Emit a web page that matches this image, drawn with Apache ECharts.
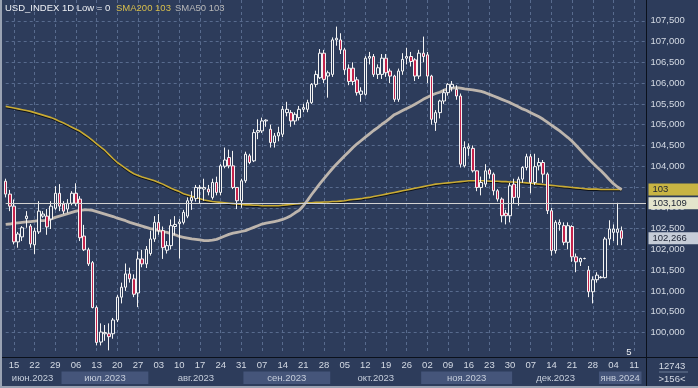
<!DOCTYPE html>
<html><head><meta charset="utf-8">
<script src="https://cdn.jsdelivr.net/npm/echarts@6.0.0/dist/echarts.min.js"></script>
<style>html,body{margin:0;padding:0;background:#2d3c5b;overflow:hidden}#c{width:698px;height:388px}</style>
</head><body><div id="c"></div>
<script>
// ---------- DATA ----------
const seriesName = 'USD_INDEX 1D Low = 0';
const firstDate = '2023-06-13';
const categoryCount = 156;
const hLevel = 103.109;
const opens = [103.64,103.33,103.04,102.18,102.30,102.74,102.56,102.11,102.42,102.80,
102.80,102.73,102.99,103.35,103.09,102.97,103.11,103.35,103.21,102.32,
101.99,101.68,100.60,99.77,99.97,99.97,99.97,100.30,100.85,101.09,
101.41,101.29,100.95,101.77,101.65,101.90,102.25,102.65,102.45,101.98,
102.09,102.55,102.62,102.65,102.80,103.17,103.22,103.47,103.45,103.45,
103.25,103.61,103.37,104.00,104.21,104.01,103.49,103.17,103.65,104.25,
104.13,104.82,104.85,105.09,104.89,104.57,104.73,104.77,105.29,105.29,
105.09,105.17,105.37,105.37,105.53,105.97,106.13,106.72,106.17,106.21,
107.04,107.04,106.80,106.36,106.36,106.08,105.73,105.73,106.60,106.64,
106.21,106.21,106.60,106.29,106.17,105.61,106.29,106.60,106.64,106.56,
106.17,106.72,106.68,106.17,105.05,105.29,105.57,105.77,105.90,105.85,
105.69,104.01,104.43,104.43,103.89,103.49,103.57,103.91,103.81,103.41,
103.21,102.87,102.81,103.57,103.25,103.69,103.97,104.23,103.61,104.01,
104.09,103.81,102.93,101.97,102.60,102.57,102.17,102.55,101.82,101.70,
101.78,101.50,100.98,101.27,101.32,101.32,102.25,102.41,102.41,102.45];
const highs = [103.70,103.43,103.20,102.42,102.56,102.92,102.61,102.52,103.16,102.92,
102.97,103.16,103.52,103.57,103.16,103.21,103.40,103.59,103.28,102.59,
102.04,101.72,100.65,100.22,100.18,100.22,100.35,100.90,101.20,101.66,
101.56,101.40,101.95,101.99,102.08,102.45,102.80,102.85,102.55,102.20,
102.72,102.80,102.73,102.95,103.25,103.40,103.55,103.55,103.70,103.55,
103.70,103.75,104.05,104.45,104.40,104.37,103.50,103.70,104.35,104.30,
104.89,105.13,105.17,105.13,105.00,104.80,104.95,105.45,105.55,105.35,
105.30,105.45,105.50,105.60,106.00,106.30,106.82,106.80,106.30,107.10,
107.36,107.20,106.85,106.45,106.50,106.15,105.90,106.65,106.75,106.70,
106.45,106.70,106.70,106.35,106.20,106.35,106.72,106.85,106.75,106.60,
106.80,107.12,106.75,106.20,105.35,105.60,105.85,106.00,106.05,105.95,
105.75,104.60,104.55,104.50,103.90,103.75,104.05,103.95,103.85,103.45,
103.25,102.95,103.60,103.70,103.75,104.00,104.30,104.30,104.30,104.20,
104.15,103.85,103.00,102.70,102.72,102.65,102.65,102.58,101.90,101.80,
101.80,101.60,101.35,101.45,101.36,102.30,102.70,102.60,103.12,102.55];
const lows = [103.25,102.92,102.12,102.04,102.20,102.52,102.04,101.89,102.37,102.76,
102.35,102.49,102.95,102.92,102.85,102.88,103.06,103.04,102.20,101.96,
101.60,100.58,99.69,99.69,99.80,99.57,99.85,100.25,100.70,101.00,
101.20,100.85,100.61,101.57,101.55,101.85,102.18,102.35,101.77,101.90,
102.00,102.35,101.78,102.60,102.75,102.95,103.15,103.10,103.17,103.30,
103.20,103.30,103.30,103.95,103.95,103.45,102.97,103.00,103.60,104.05,
104.10,104.65,104.80,104.95,104.45,104.45,104.60,104.70,105.20,104.95,
105.00,105.10,105.30,105.30,105.50,105.90,106.10,106.00,105.65,106.15,
106.90,106.70,106.20,105.95,105.95,105.70,105.55,105.70,106.45,106.15,
106.10,106.10,106.15,106.00,105.55,105.55,106.20,106.45,106.40,106.05,
106.10,106.50,106.00,105.00,104.85,105.15,105.50,105.70,105.80,105.60,
103.97,103.97,104.25,103.85,103.40,103.30,103.50,103.70,103.30,103.15,
102.65,102.60,102.65,103.10,103.05,103.60,103.90,103.35,103.55,103.90,
103.60,102.85,101.85,101.90,102.45,102.10,102.00,101.70,101.45,101.60,
101.76,100.85,100.70,101.20,101.30,101.30,102.10,102.20,102.10,102.10];
const closes = [103.33,103.04,102.18,102.37,102.52,102.80,102.13,102.44,102.92,102.85,
102.54,103.04,103.35,103.04,102.92,103.11,103.35,103.11,102.28,101.99,
101.65,100.60,99.76,100.01,100.00,99.90,100.30,100.85,101.09,101.41,
101.29,100.92,101.77,101.65,102.00,102.25,102.65,102.45,102.04,102.09,
102.57,102.60,102.66,102.89,103.17,103.25,103.49,103.49,103.49,103.38,
103.61,103.37,104.01,104.15,104.01,103.49,103.17,103.65,104.29,104.09,
104.81,104.86,105.09,105.11,104.57,104.73,104.81,105.37,105.37,105.09,
105.25,105.37,105.41,105.53,105.97,106.21,106.72,106.09,106.25,107.04,
107.08,106.80,106.32,106.04,106.04,105.77,105.81,106.60,106.64,106.21,
106.37,106.60,106.25,106.17,105.61,106.29,106.57,106.64,106.52,106.17,
106.72,106.64,106.17,105.13,105.29,105.57,105.77,105.97,105.97,105.69,
104.05,104.45,104.47,103.89,103.49,103.61,103.89,103.81,103.41,103.21,
102.81,102.81,103.53,103.25,103.69,103.97,104.23,103.61,103.99,104.09,
103.81,102.93,101.97,102.65,102.65,102.17,102.57,101.82,101.70,101.78,
101.78,100.98,101.27,101.38,101.33,102.25,102.49,102.49,102.49,102.266];
const sma200 = [105.44,105.42,105.40,105.38,105.36,105.34,105.32,105.29,105.26,105.23,
105.20,105.17,105.13,105.08,105.04,104.99,104.94,104.89,104.84,104.77,
104.70,104.62,104.54,104.46,104.38,104.28,104.18,104.09,104.02,103.95,
103.88,103.82,103.78,103.74,103.71,103.68,103.65,103.61,103.57,103.52,
103.47,103.43,103.39,103.34,103.31,103.28,103.25,103.22,103.19,103.17,
103.15,103.14,103.13,103.12,103.11,103.10,103.09,103.08,103.07,103.07,
103.06,103.06,103.05,103.05,103.05,103.05,103.05,103.06,103.07,103.08,
103.09,103.10,103.11,103.12,103.12,103.13,103.13,103.14,103.14,103.15,
103.15,103.16,103.17,103.19,103.20,103.21,103.22,103.24,103.25,103.27,
103.29,103.31,103.33,103.35,103.37,103.39,103.41,103.43,103.45,103.47,
103.49,103.51,103.53,103.55,103.57,103.58,103.59,103.60,103.61,103.62,
103.63,103.64,103.65,103.65,103.65,103.65,103.65,103.64,103.64,103.64,
103.63,103.63,103.62,103.62,103.61,103.61,103.60,103.59,103.58,103.57,
103.56,103.55,103.54,103.53,103.52,103.51,103.50,103.49,103.48,103.47,
103.46,103.45,103.45,103.45,103.44,103.44,103.44,103.44,103.44,103.44];
const sma50 = [102.60,102.61,102.63,102.64,102.65,102.66,102.67,102.68,102.69,102.69,
102.70,102.73,102.77,102.80,102.83,102.86,102.89,102.92,102.94,102.95,
102.95,102.94,102.91,102.88,102.85,102.82,102.79,102.75,102.72,102.69,
102.65,102.62,102.59,102.56,102.53,102.50,102.48,102.45,102.43,102.41,
102.38,102.35,102.31,102.29,102.27,102.25,102.24,102.23,102.21,102.21,
102.22,102.24,102.28,102.32,102.36,102.39,102.41,102.43,102.45,102.49,
102.53,102.57,102.61,102.63,102.65,102.67,102.69,102.72,102.76,102.81,
102.88,102.94,103.05,103.18,103.32,103.45,103.58,103.70,103.82,103.94,
104.05,104.15,104.25,104.35,104.45,104.54,104.62,104.70,104.78,104.86,
104.93,105.01,105.08,105.16,105.24,105.29,105.34,105.39,105.44,105.49,
105.55,105.61,105.66,105.71,105.75,105.78,105.83,105.86,105.88,105.89,
105.88,105.86,105.85,105.84,105.82,105.80,105.77,105.73,105.69,105.65,
105.61,105.57,105.53,105.48,105.43,105.38,105.34,105.29,105.24,105.19,
105.13,105.06,104.99,104.92,104.85,104.77,104.69,104.60,104.50,104.39,
104.28,104.18,104.08,103.98,103.89,103.79,103.68,103.58,103.50,103.44];
const monthNames = ['янв','фев','мар','апр','май','июн','июл','авг','сен','окт','ноя','дек'];
const footerTop = '12743';
const footerBottom = '>156<';
const cornerMark = '5';

// ---------- BUILD ----------
const cats = [];
(function(){
  const p = firstDate.split('-').map(Number);
  const d = new Date(Date.UTC(p[0], p[1]-1, p[2]));
  while (cats.length < categoryCount) {
    const wd = d.getUTCDay();
    if (wd !== 0 && wd !== 6) cats.push(d.toISOString().slice(0,10));
    d.setUTCDate(d.getUTCDate()+1);
  }
})();
const isThu = s => new Date(s + 'T00:00:00Z').getUTCDay() === 4;
const candleData = opens.map((o,i)=>[o, closes[i], lows[i], highs[i]]);
const months = [];
cats.forEach((s,i)=>{
  const key = s.slice(0,7);
  if (!months.length || months[months.length-1].key !== key) months.push({key, start:i, end:i});
  else months[months.length-1].end = i;
});
const monthData = months.map((m,j)=>{
  const y = m.key.slice(0,4), mo = +m.key.slice(5,7);
  return {value:[m.start, m.end, 0.5], label: monthNames[mo-1] + '.' + y, shade: j % 2 === 1};
});
const fmt3 = v => v.toFixed(3).replace('.', ',');
const lastClose = closes[closes.length-1];
const last200 = sma200[sma200.length-1];
const last50 = sma50[sma50.length-1];

const FONT = 'Liberation Sans, Arial, sans-serif';
const BG = '#2d3c5b';
const GRIDC = '#586b8e';
const TXT = '#d4dae4';

// pixel layout of the value axis
const yTopPx = 19.3, yBotPx = 332.4;   // px of 107.5 and 100
const pxPerUnit = (yBotPx - yTopPx) / 7.5;
const Y_MIN = 99.5, Y_MAX = 108;
const gridTop = yTopPx - (Y_MAX - 107.5) * pxPerUnit;
const gridBottom = 388 - (yBotPx + (100 - Y_MIN) * pxPerUnit);
const gridLeft = 5.7, gridRight = 51.5;

const chart = echarts.init(document.getElementById('c'), null, {renderer:'canvas'});
chart.setOption({
  animation: false,
  backgroundColor: BG,
  grid: [
    {left: gridLeft, right: gridRight, top: gridTop, bottom: gridBottom, containLabel: false},
    {left: gridLeft, right: gridRight, top: 371.5, height: 12.5, containLabel: false}
  ],
  xAxis: [
    {type:'category', gridIndex:0, data: cats, boundaryGap:false,
     axisLine:{show:false}, axisTick:{show:false},
     axisLabel:{interval:(i,v)=>isThu(v), formatter:v=>v.slice(8,10), color:TXT, fontSize:9.5, fontFamily:FONT, margin:7},
     splitLine:{show:true, interval:(i,v)=>isThu(v), lineStyle:{color:GRIDC, type:[3,3], width:1}}},
    {type:'category', gridIndex:1, data: cats, boundaryGap:false, show:false}
  ],
  yAxis: [
    {type:'value', gridIndex:0, position:'right', min:Y_MIN, max:Y_MAX, interval:0.5, scale:true,
     axisLine:{show:false}, axisTick:{show:false},
     axisLabel:{showMinLabel:false, showMaxLabel:false, formatter:fmt3, color:TXT, fontSize:9.5, fontFamily:FONT, margin:4, align:'left'},
     splitLine:{show:true, showMinLine:false, showMaxLine:false, lineStyle:{color:GRIDC, type:[3,3], width:1}}},
    {type:'value', gridIndex:1, min:0, max:1, show:false}
  ],
  series: [
    {type:'line', name:'SMA200', data: sma200, xAxisIndex:0, yAxisIndex:0, showSymbol:false, symbol:'none',
     lineStyle:{color:'#c9ab34', width:1.6, shadowColor:'rgba(0,0,0,0.7)', shadowBlur:0, shadowOffsetY:1}, z:3,
     markLine:{silent:true, symbol:['none','none'], animation:false,
       data:[{yAxis:last200, lineStyle:{color:'rgba(0,0,0,0)', width:0},
         label:{show:true, position:'end', distance:2, formatter:()=>last200.toFixed(0), color:'#1b2233', backgroundColor:'#c8b443',
                width:44, padding:[1,2,0,4], fontSize:9.5, fontFamily:FONT, lineHeight:11}}]}},
    {type:'line', name:'SMA50', data: sma50, xAxisIndex:0, yAxisIndex:0, showSymbol:false, symbol:'none',
     lineStyle:{color:'#bdb5ad', width:2.8}, z:3},
    {type:'candlestick', name: seriesName, data: candleData, xAxisIndex:0, yAxisIndex:0, barWidth:3, z:4,
     itemStyle:{color:BG, color0:'#c4234c', borderColor:'#f4f4f4', borderColor0:'#f4f4f4', borderWidth:1},
     markLine:{silent:true, symbol:['none','none'], animation:false,
       data:[
        {yAxis:hLevel, lineStyle:{color:'#d2d2d2', width:1, type:'solid'},
         label:{show:true, position:'end', distance:2, formatter:()=>fmt3(hLevel), color:'#1b2233', backgroundColor:'#e4e4cc',
                width:44, padding:[1,2,0,4], fontSize:9.5, fontFamily:FONT, lineHeight:11}},
        {yAxis:lastClose, lineStyle:{color:'rgba(0,0,0,0)', width:0},
         label:{show:true, position:'end', distance:2, formatter:()=>fmt3(lastClose), color:'#1b2233', backgroundColor:'#c6cdd8',
                width:44, padding:[1,2,0,4], fontSize:9.5, fontFamily:FONT, lineHeight:11}}
       ]}},
    {type:'custom', name:'months', xAxisIndex:1, yAxisIndex:1, data: monthData, encode:{x:[0,1], y:2}, silent:true,
     renderItem:(params, api)=>{
       const s = api.value(0), e = api.value(1);
       const w = api.size([1,0])[0];
       const cs = params.coordSys;
       const x0 = Math.max(cs.x - gridLeft, api.coord([s,0])[0] - w/2);
       const x1 = Math.min(cs.x + cs.width - 5, api.coord([e,0])[0] + w/2);
       const item = monthData[params.dataIndex];
       const children = [];
       if (item.shade) children.push({type:'rect', shape:{x:x0, y:cs.y, width:x1-x0, height:cs.height}, style:{fill:'#45557a'}});
       children.push({type:'text', style:{text:item.label, x:(x0+x1)/2, y:cs.y+cs.height/2+0.5, align:'center', verticalAlign:'middle', fill:'#c6cedb', fontSize:9.5, fontFamily:FONT}});
       return {type:'group', children};
     }}
  ],
  graphic: [
    {type:'line', shape:{x1:0, y1:357.5, x2:698, y2:357.5}, style:{stroke:'#0b111c', lineWidth:1}, z:10},
    {type:'line', shape:{x1:646.5, y1:0, x2:646.5, y2:388}, style:{stroke:'#0b111c', lineWidth:1}, z:10},
    {type:'rect', shape:{x:0, y:0, width:2, height:388}, style:{fill:'#9aa3b3'}, z:10},
    {type:'rect', shape:{x:0, y:386, width:698, height:2}, style:{fill:'#9aa3b3'}, z:10},
    {type:'text', style:{text:seriesName, x:5, y:8, verticalAlign:'middle', fill:'#eef0f4', fontSize:9.5, fontFamily:FONT}, z:10},
    {type:'text', style:{text:'SMA200 ' + last200.toFixed(0), x:116, y:8, verticalAlign:'middle', fill:'#d8bf4c', fontSize:9.5, fontFamily:FONT}, z:10},
    {type:'text', style:{text:'SMA50 ' + last50.toFixed(0), x:175, y:8, verticalAlign:'middle', fill:'#b8b8b8', fontSize:9.5, fontFamily:FONT}, z:10},
    {type:'text', style:{text:footerTop, x:672, y:366, align:'center', verticalAlign:'middle', fill:TXT, fontSize:9.5, fontFamily:FONT}, z:10},
    {type:'line', shape:{x1:659, y1:372, x2:688, y2:372}, style:{stroke:'#6d7c98', lineWidth:1}, z:10},
    {type:'text', style:{text:footerBottom, x:672, y:379, align:'center', verticalAlign:'middle', fill:TXT, fontSize:9.5, fontFamily:FONT}, z:10},
    {type:'text', style:{text:cornerMark, x:629, y:352, align:'center', verticalAlign:'middle', fill:'#eef0f4', fontSize:9.5, fontFamily:FONT}, z:10}
  ]
});
</script></body></html>
